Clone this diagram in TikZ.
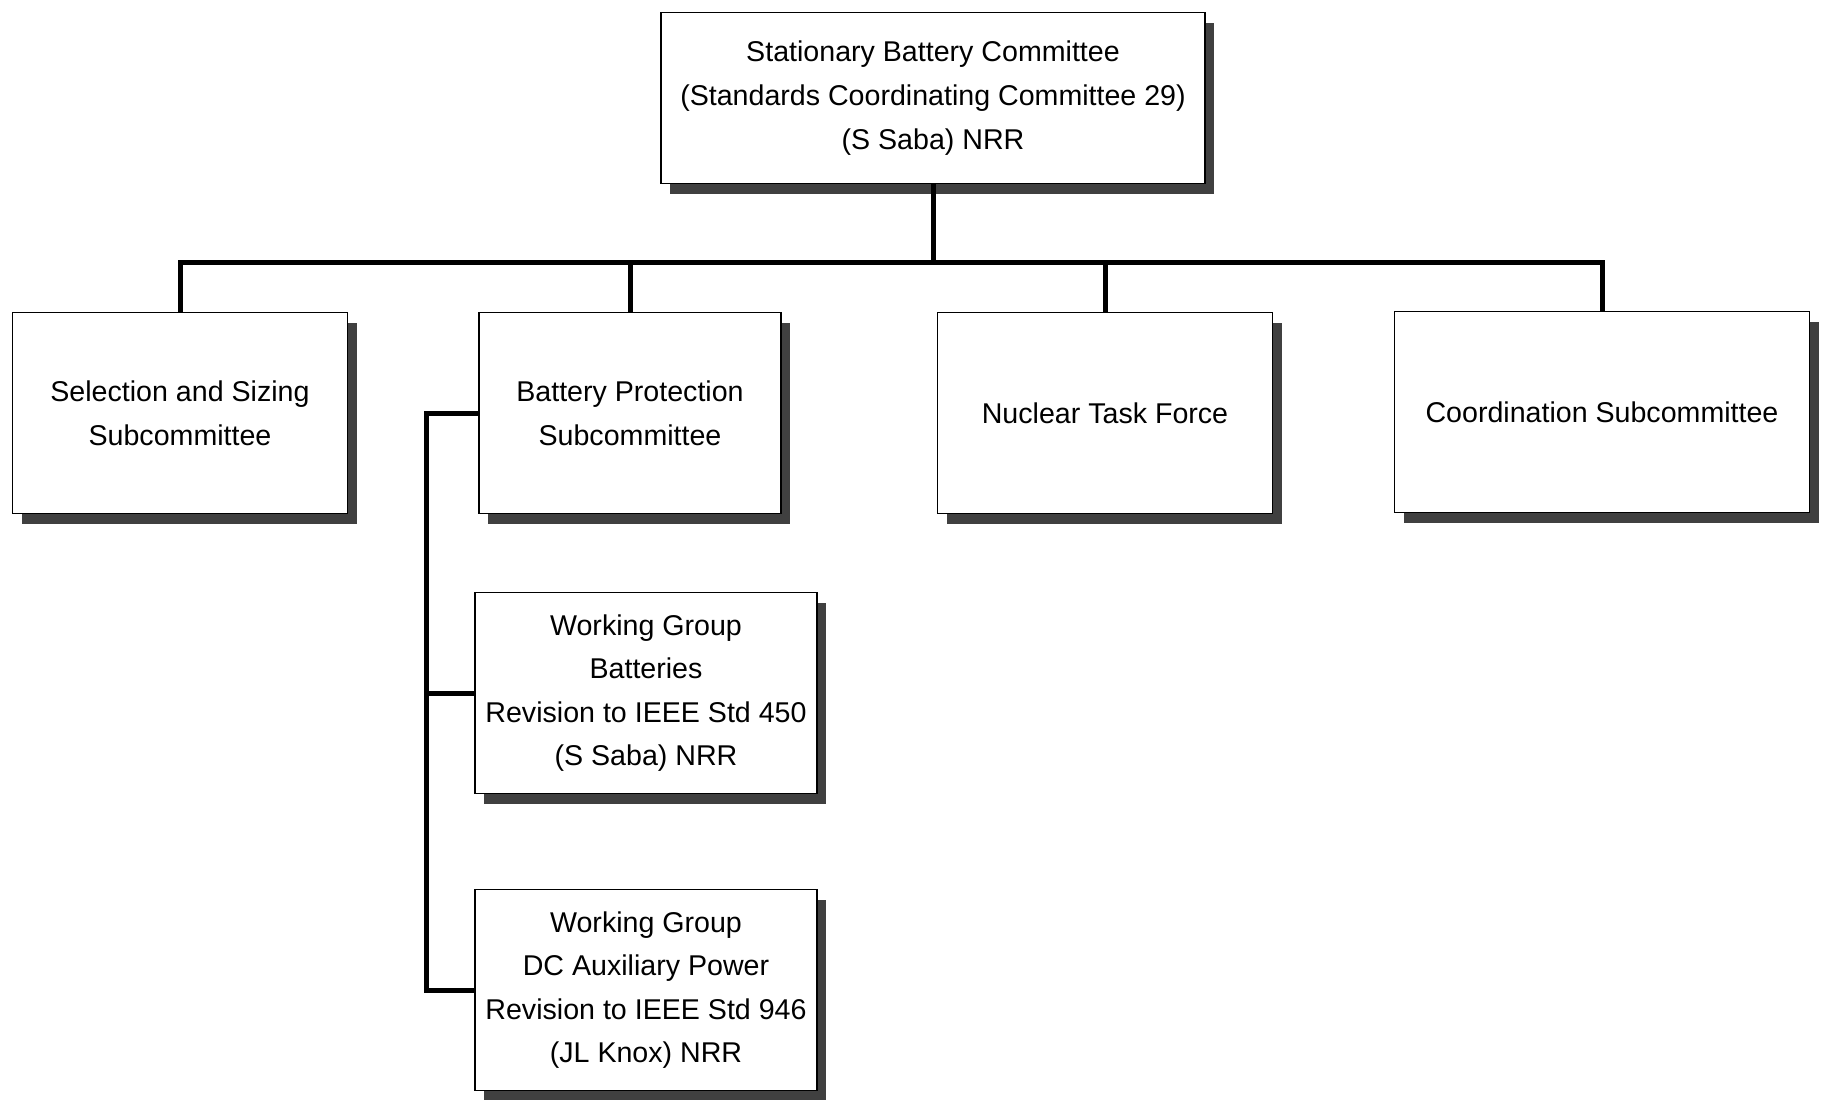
\documentclass[tikz,border=0pt]{standalone}
\usepackage{fontspec}
\setmainfont{Liberation Sans}
\usetikzlibrary{shadows}
\tikzset{
    cbox/.style = {rectangle, draw=black, line width=0.6pt, fill=white, align=center, inner sep=2pt,
        minimum height=100.5pt, font=\fontsize{14.3}{21.8}\selectfont,
        drop shadow={shadow xshift=4.5pt, shadow yshift=-5pt, fill=black!75, opacity=1}},
    link/.style = {line width=2.5pt, line join=miter},
}

\begin{document}
\begin{tikzpicture}[x=0.5pt, y=-0.5pt]
\useasboundingbox (0,0) rectangle (1831,1099);
\node[cbox, minimum width=272pt, minimum height=85.5pt] at (933, 98) (top) {Stationary Battery Committee\\(Standards Coordinating Committee 29)\\(S Saba) NRR};
\node[cbox, minimum width=167.5pt] at (180, 413) (sel) {Selection and Sizing\\Subcommittee};
\node[cbox, minimum width=151pt] at (630, 413) (bp) {Battery Protection\\Subcommittee};
\node[cbox, minimum width=167.5pt] at (1105, 413) (ntf) {Nuclear Task Force};
\node[cbox, minimum width=207.5pt] at (1602, 412) (coord) {Coordination Subcommittee};
\node[cbox, minimum width=171pt] at (646, 693) (wga) {Working Group\\Batteries\\Revision to IEEE Std 450\\(S Saba) NRR};
\node[cbox, minimum width=171pt] at (646, 990) (wgb) {Working Group\\DC Auxiliary Power\\Revision to IEEE Std 946\\(JL Knox) NRR};
% bus and spine
\coordinate (bus) at (933, 262);
\coordinate (spine) at (426, 0);
\draw[link] (top.south) -- (bus);
\draw[link] (sel.north) |- (bus) -| (coord.north);
\draw[link] (bp.north) -- (bp.north |- bus);
\draw[link] (ntf.north) -- (ntf.north |- bus);
\draw[link] (bp.west) -- (bp.west -| spine) |- (wgb.west);
\draw[link] (wga.west) -- (wga.west -| spine);
\end{tikzpicture}
\end{document}
